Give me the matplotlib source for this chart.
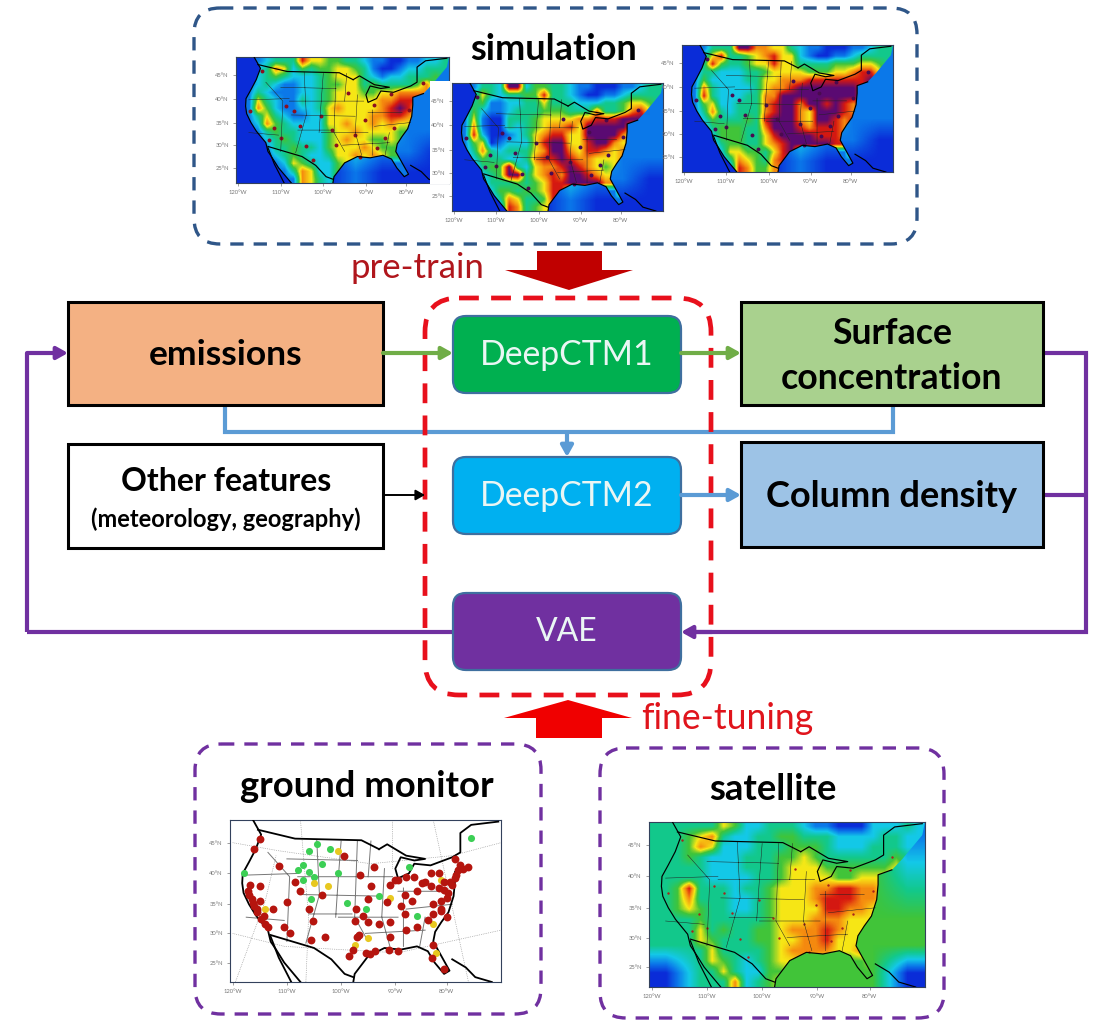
import numpy as np
import matplotlib
matplotlib.use('Agg')
from matplotlib import pyplot as plt
from matplotlib.colors import LinearSegmentedColormap
from matplotlib.patches import FancyBboxPatch, Rectangle, Polygon

plt.rcParams['font.family'] = ['Lato', 'DejaVu Sans']

W, H = 1094, 1021

# concentration levels, one digit per cell, 0 = deep blue ... 8 = purple
sim1 = ['111233375544332110011223', '112365243445543100122333', '112343222345553212233343', '112321122344553433334631',
        '113211122345554455666641', '115321132345555566777731', '116421122356555567875811', '113532112255555667765811',
        '112643222255655656555511', '111343322245565555445511', '111234322245655445454411', '111133433245556544455411',
        '111123432235565654441111', '111112543224545411115511', '111111365224441111116511', '111111165324411111111111']
sim2 = ['111332882443321100011233', '112532334473321001123333', '113411223353332223345543', '114211233344433363346752',
        '115100333455556677788862', '116100323456675888886871', '117200123567755888865811', '114501222578855788656811',
        '113632333568865776567711', '112433223677876655566511', '111344832566787654566511', '111234883567688765556111',
        '111133343457788886664111', '111124434457733211186111', '111113653347733111115111', '111111763455622111111111']
sim3 = ['111333886655321100011233', '112573345675521001123333', '113743345575533334445543', '113322233455554445567752',
        '114222233556667777777861', '116322223566788888887771', '117322233668888888887811', '114522333678868878767811',
        '113632333678865888767511', '112433343788865887677411', '111344433688876777677311', '111244433578888777667111',
        '111134433567888887764111', '111125544357833311176111', '111113654367722111117111', '111111764466611111111111']
satellite = ['333333542233321100022232', '333456322334433322223322', '333465222333444322233322', '333432223334454333333433',
             '333332223334555444444543', '333332222334555544555643', '334733323345556677665744', '334633322345556777665844',
             '334543322345555776654844', '333343333345556665555644', '333353433445666765566644', '333354333445566755566544',
             '333335333345666655665544', '333335432345565544455444', '333333532244544444445444', '333333362345444444444444']
sim_ocean = ['00000001', '00000111', '00000011', '00000211', '00002110', '00001000']
sat_ocean = ['33322211', '33333442', '33334443', '33344444', '33344444', '03344440']
level_colors = ['#0a2cd8', '#0b78ea', '#14c8e8', '#12c98c', '#3fc43a', '#f7e816', '#f58c0f', '#d8190f', '#5a0a72']

# outlines in percent of the map frame
coast_x = [8.5, 11.5, 9.5, 7, 4.7, 4.5, 5, 7, 9.6, 14, 15, 17, 20, 26]
coast_y = [0, 9, 18, 26, 33, 39, 45, 52, 59, 68, 75, 80, 88, 100]
baja_x = [15, 18, 22.6]
baja_y = [72, 85, 100]
north_x = [10.3, 24, 48.5, 55]
north_y = [6, 11.5, 12.5, 18]
lake1_x = [55, 58, 65, 72, 68, 63, 61, 62, 66, 68, 74, 82, 85, 85, 89, 99]
lake1_y = [18, 15, 22, 24, 25, 23, 30, 36, 33, 27, 28, 23, 20, 8, 3, 1]
east_x = [88, 83, 83, 82.5, 80.6, 78, 75.7, 75, 78, 81, 79, 75.5, 73, 69, 63, 57, 51, 46, 45.5]
east_y = [29, 32, 38, 47, 57, 63, 69, 75, 84, 93, 95, 88, 81, 78, 80, 79, 84, 95, 100]
south_x = [45.5, 42.3, 37.4, 31, 25, 15]
south_y = [97, 95, 86, 79, 76, 71]
cuba_x = [82, 87, 90.5, 96.6]
cuba_y = [86, 91, 97, 100]
state_x = [6, 25, np.nan, 14, 22, 21, np.nan, 21, 47, np.nan, 26, 56, np.nan, 32, 33, 28, np.nan, 6, 20, np.nan,
           47, 46, 51, np.nan, 40, 62, np.nan, 25, 60, np.nan, 57, 56, 59, np.nan, 64, 64, np.nan, 72, 70, np.nan,
           65, 82, np.nan, 41, 40, 39, np.nan, 29, 45, np.nan, 50, 72, np.nan, 52, 51, np.nan, 62, 78]
state_y = [34, 33, np.nan, 20, 35, 75, np.nan, 24, 25, np.nan, 46, 47, np.nan, 12, 46, 76, np.nan, 60, 62, np.nan,
           13, 60, 75, np.nan, 60, 60, np.nan, 35, 35, np.nan, 30, 60, 78, np.nan, 42, 78, np.nan, 60, 78, np.nan,
           55, 52, np.nan, 13, 35, 60, np.nan, 58, 58, np.nan, 70, 68, np.nan, 13, 35, np.nan, 44, 44]
# dotted graticule on the monitor map
grat_x = [1, 18, 52, 82, 100, np.nan, 1, 20, 62, 100, np.nan, 2, 13, 17, np.nan, 28, 29, 26, np.nan, 75, 88, np.nan, 60, 60]
grat_y = [14, 19, 27, 22, 14, np.nan, 70, 78, 82, 68, np.nan, 100, 50, 22, np.nan, 100, 60, 0, np.nan, 0, 100, np.nan, 0, 30]

# dark point sources seen on the model maps
city_x = [52.8, 45, 47, 23.6, 6.8, 15.7, 21, 30, 65, 60.6, 73, 81, 58, 70, 12, 36, 27, 33, 18, 40, 56, 74, 66, 88]
city_y = [28.4, 58, 70, 39, 43, 66, 64.5, 55, 38, 50, 29, 42, 79, 64, 11, 82, 43, 71, 56, 47, 62, 56, 72, 21]

# monitor positions in percent of the map frame
red_x = [11, 9, 18, 53, 7.5, 6.5, 8, 9, 10, 11.5, 14, 11, 24, 26, 34, 21, 16, 29, 30.5, 20, 22, 30, 35, 47, 45.5, 44,
         50, 53.5, 58.5, 62, 75, 79, 74.5, 52, 48, 42, 51, 58, 46.5, 49, 46, 51, 55, 59, 59, 65, 69, 64.5, 64.5, 69,
         67, 63, 75, 75, 78, 73, 79, 81, 83, 86, 88, 83, 74, 72, 74, 68, 65, 62, 80, 77, 78,
         7, 8.5, 10, 11, 12.5, 13, 47.5, 51.5, 61, 59, 80.5, 82, 83.5, 84, 85, 79, 77, 71, 78, 80]
red_y = [11.5, 18, 28.5, 29, 40, 44, 49, 53, 57, 61, 66, 41, 38.5, 44, 46.5, 50.5, 55, 55, 62.5, 66, 70, 74, 72, 72.5,
         80, 84, 82, 81, 80, 81, 77, 92, 85, 41, 34, 22, 49, 50.5, 55, 59, 62.5, 63, 64.5, 63, 72, 68, 66, 58, 46, 44,
         50, 53, 52, 58, 55, 61.5, 43, 38, 36, 30, 29, 24, 33, 38, 41, 35, 35, 37, 48, 42, 50,
         46, 51, 55, 50, 59, 64, 71, 83, 37, 40, 45, 40, 34, 31, 28, 38, 33, 39, 56, 60]
green_x = [32, 29, 37, 27, 29, 27, 34, 40, 66, 43, 55, 69, 5, 30, 89, 50, 25, 31]
green_y = [15, 19, 18, 28, 32, 37, 27, 33, 29, 51, 47, 59, 33, 49, 11, 55, 31, 35]
yellow_x = [40, 31, 36, 59, 78, 75, 13, 51, 46, 76]
yellow_y = [19, 39, 41, 48, 37, 64, 55, 73, 77, 82]

lat_labels = ['45°N', '40°N', '35°N', '30°N', '25°N']
lon_labels = ['120°W', '110°W', '100°W', '90°W', '80°W']
lon_ticks = [1, 21, 41, 61, 80]
lat_ticks = [14, 33, 52, 70, 88]

level_cmap = LinearSegmentedColormap.from_list('levels', level_colors)

fig = plt.figure(figsize=(W / 100, H / 100), dpi=100)
ax = fig.add_axes([0, 0, 1, 1])
ax.set_xlim(0, W)
ax.set_ylim(H, 0)
ax.axis('off')


def digits(rows):
    return [[int(c) for c in r] for r in rows]


def dashed_box(x0, y0, x1, y1, color, lw=2.4, r=26, dash=(4, 3)):
    ax.add_patch(FancyBboxPatch((x0, y0), x1 - x0, y1 - y0, boxstyle=f'round,pad=0,rounding_size={r}',
                                fc='none', ec=color, lw=lw, ls=(0, dash), zorder=3))


def square_box(x0, y0, x1, y1, color):
    ax.add_patch(Rectangle((x0, y0), x1 - x0, y1 - y0, fc=color, ec='black', lw=2.2, zorder=2))


def model_box(x0, y0, x1, y1, color, label, size=24.3):
    ax.add_patch(FancyBboxPatch((x0, y0), x1 - x0, y1 - y0, boxstyle='round,pad=0,rounding_size=13',
                                fc=color, ec='#3f6f9f', lw=1.6, zorder=4))
    ax.text((x0 + x1) / 2, (y0 + y1) / 2, label, color='#eaf6f4', fontsize=size, ha='center', va='center', zorder=5)


def line(xs, ys, color, lw):
    ax.plot(xs, ys, color=color, lw=lw, solid_joinstyle='miter', solid_capstyle='butt', zorder=1)


def arrow(x0, y0, x1, y1, color, lw=2.4, size=13):
    ax.annotate('', xy=(x1, y1), xytext=(x0, y0), zorder=6,
                arrowprops=dict(arrowstyle='-|>,head_length=0.5,head_width=0.28', color=color, lw=lw,
                                mutation_scale=size, shrinkA=0, shrinkB=0))


def block_arrow(shaft, head, y_base, y_neck, y_tip, color):
    ax.add_patch(Polygon([(shaft[0], y_base), (shaft[1], y_base), (shaft[1], y_neck), (head[1], y_neck),
                          ((head[0] + head[1]) / 2, y_tip), (head[0], y_neck), (shaft[0], y_neck)],
                         fc=color, ec='none', zorder=4))


def map_axes(x0, y0, x1, y1):
    m = fig.add_axes([x0 / W, 1 - y1 / H, (x1 - x0) / W, (y1 - y0) / H])
    m.set_xlim(0, 100)
    m.set_ylim(100, 0)
    m.set_xticks(lon_ticks, lon_labels)
    m.set_yticks(lat_ticks, lat_labels)
    m.tick_params(labelsize=4.2, length=2, width=0.5, pad=3, colors='#777777')
    for s in m.spines.values():
        s.set_linewidth(0.8)
        s.set_color('#33415c')
    return m


def outlines(m, lw=0.85, state_color='#222222', state_lw=0.35):
    m.plot(state_x, state_y, color=state_color, lw=state_lw, zorder=2)
    for xs, ys in [(coast_x, coast_y), (baja_x, baja_y), (north_x, north_y), (lake1_x, lake1_y),
                   (east_x, east_y), (south_x, south_y), (cuba_x, cuba_y)]:
        m.plot(xs, ys, color='black', lw=lw, zorder=3)
    m.set_xlim(0, 100)
    m.set_ylim(100, 0)


def field_map(x0, y0, x1, y1, grid, ocean, city_color, city_size):
    m = map_axes(x0, y0, x1, y1)
    extent = (0, 100, 100, 0)
    m.imshow(digits(ocean), cmap=level_cmap, vmin=0, vmax=8, aspect='auto', extent=extent, interpolation='bilinear')
    land = m.imshow(digits(grid), cmap=level_cmap, vmin=0, vmax=8, aspect='auto', extent=extent,
                    interpolation='bilinear')
    shape = list(zip(coast_x, coast_y)) + list(zip(east_x[::-1], east_y[::-1])) + [(92, 22), (99, 8), (100, 0)]
    land.set_clip_path(Polygon(shape, transform=m.transData))
    m.scatter(city_x, city_y, s=city_size, color=city_color, lw=0, zorder=2)
    outlines(m)
    return m


# simulation panel
dashed_box(194, 8, 917, 244, '#2f5688')
ax.text(554, 50, 'simulation', fontsize=26, fontweight='bold', ha='center', va='center', zorder=5)
m1 = field_map(236, 57, 449, 183, sim1, sim_ocean, '#8b1020', 8)
m1.add_patch(Rectangle((91, 19), 9.5, 82, fc='white', ec='none', zorder=5, clip_on=False))
field_map(452, 83, 663, 211, sim2, sim_ocean, '#4a0a50', 8)
field_map(682, 45, 893, 172, sim3, sim_ocean, '#4a0a50', 8)

# pre-train arrow
ax.text(417, 268, 'pre-train', color='#b0161c', fontsize=25, ha='center', va='center')
block_arrow((537, 602), (505, 633), 251, 270, 290, '#c00000')

# flow lines
line([27, 27], [632, 353], '#7030a0', 3)
line([27, 453], [632, 632], '#7030a0', 3)
line([1043, 1086, 1086, 690], [353, 353, 632, 632], '#7030a0', 3)
line([1043, 1086], [495, 495], '#7030a0', 3)
line([225, 225, 893, 893], [405, 432, 432, 405], '#5b9bd5', 3)
arrow(27, 353, 68, 353, '#7030a0', lw=3)
arrow(712, 632, 681, 632, '#7030a0', lw=3)
arrow(383, 353, 453, 353, '#70ad47', lw=3)
arrow(681, 353, 741, 353, '#70ad47', lw=3)
arrow(567, 432, 567, 457, '#5b9bd5', lw=3)
arrow(681, 495, 741, 495, '#5b9bd5', lw=3)
arrow(383, 495, 425, 495, 'black', lw=1.4, size=11)

# boxes
square_box(68, 302, 383, 405, '#f4b183')
ax.text(226, 355, 'emissions', fontsize=25.5, fontweight='bold', ha='center', va='center', zorder=5)
square_box(741, 302, 1043, 405, '#a9d18e')
ax.text(892, 333, 'Surface', fontsize=25.7, fontweight='bold', ha='center', va='center', zorder=5)
ax.text(892, 378, 'concentration', fontsize=25.7, fontweight='bold', ha='center', va='center', zorder=5)
square_box(68, 444, 383, 548, 'white')
ax.text(226, 481, 'Other features', fontsize=23, fontweight='bold', ha='center', va='center', zorder=5)
ax.text(226, 519, '(meteorology, geography)', fontsize=17, fontweight='bold', ha='center', va='center', zorder=5)
square_box(741, 442, 1043, 547, '#9dc3e6')
ax.text(892, 496, 'Column density', fontsize=26, fontweight='bold', ha='center', va='center', zorder=5)

model_box(453, 316, 681, 393, '#00b050', 'DeepCTM1')
model_box(453, 457, 681, 534, '#00b0f0', 'DeepCTM2')
model_box(453, 593, 681, 670, '#7030a0', 'VAE', size=23)

dashed_box(425, 298, 711, 695, '#e8101c', lw=3.4, r=34, dash=(4.2, 2.6))

# fine-tuning arrow
block_arrow((536, 602), (504, 632), 738, 718, 700, '#f00000')
ax.text(727, 718, 'fine-tuning', color='#e0141c', fontsize=25.6, ha='center', va='center')

# observation panels
dashed_box(195, 744, 541, 1014, '#7030a0')
dashed_box(600, 748, 944, 1018, '#7030a0')
ax.text(367, 786, 'ground monitor', fontsize=26.2, fontweight='bold', ha='center', va='center', zorder=5)
ax.text(773, 789, 'satellite', fontsize=26.2, fontweight='bold', ha='center', va='center', zorder=5)

gm = map_axes(230, 820, 501, 982)
gm.plot(grat_x, grat_y, color='#888888', lw=0.5, ls=':', zorder=1)
outlines(gm, lw=1.3, state_color='#777777', state_lw=0.7)
gm.scatter(green_x, green_y, s=26, color='#3ccf55', lw=0, zorder=4)
gm.scatter(yellow_x, yellow_y, s=26, color='#e8c820', lw=0, zorder=4)
gm.scatter(red_x, red_y, s=32, color='#b5150f', lw=0, zorder=5)

field_map(649, 822, 925, 987, satellite, sat_ocean, '#a8231c', 3)

fig.savefig('out.png', dpi=100)
